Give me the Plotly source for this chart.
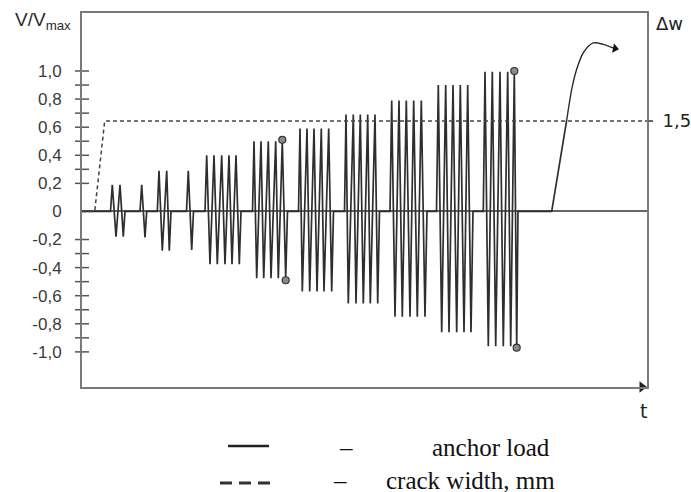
import plotly.graph_objects as go

# ---------------- data ----------------
# time axis t is in arbitrary units (0 .. 565)
group_start = [28.5, 58.0, 75.3, 104.5, 123.0, 170.5, 216.5, 262.5, 308.0, 354.5, 401.3]
group_end   = [43.0, 64.7, 89.0, 111.5, 159.0, 205.5, 251.5, 297.5, 345.0, 391.0, 436.0]
peak_t = [
    [30.3, 38.0],
    [59.7],
    [77.0, 84.7],
    [106.3],
    [124.7, 132.0, 139.7, 147.0, 154.0],
    [172.0, 179.0, 186.3, 193.7, 200.3],
    [218.0, 225.0, 232.0, 239.3, 246.7],
    [264.0, 271.3, 278.3, 285.7, 293.0],
    [309.7, 317.0, 324.3, 331.7, 339.3],
    [356.3, 363.7, 371.0, 378.3, 385.7],
    [403.0, 410.3, 418.0, 425.7, 432.3],
]
trough_t = [
    [34.0, 41.3],
    [63.0],
    [80.3, 87.3],
    [109.7],
    [128.0, 135.3, 143.0, 150.0, 157.3],
    [174.7, 181.7, 189.0, 196.3, 203.7],
    [220.3, 227.7, 235.0, 242.0, 249.7],
    [266.3, 274.0, 281.3, 288.3, 295.7],
    [313.0, 320.3, 328.0, 335.3, 343.0],
    [359.7, 367.0, 374.7, 382.0, 389.0],
    [406.3, 413.7, 421.3, 428.7, 434.7],
]
peak_v   = [0.19, 0.19, 0.29, 0.29, 0.40, 0.50, 0.59, 0.69, 0.79, 0.90, 0.995]
trough_v = [-0.18, -0.185, -0.28, -0.275, -0.375, -0.475, -0.57, -0.655, -0.75, -0.86, -0.96]

# final loading to failure: straight rise, then rounded top
rise_t = [436.0, 469.7, 484.7]
rise_v = [0.0, 0.0, 0.65]
top_t = [484.7, 490.0, 495.0, 501.3, 511.3, 521.3, 533.0]
top_v = [0.65, 0.88, 1.02, 1.13, 1.20, 1.19, 1.16]

# marked points (circles)
mark_t = [200.3, 203.7, 432.3, 434.7]
mark_v = [0.51, -0.49, 1.0, -0.97]

# crack width (right axis, mm)
crack_t = [0.0, 12.7, 22.7, 565.0]
crack_w = [0.0, 0.0, 1.5, 1.5]

# axis ticks
y_label_vals = [1.0, 0.8, 0.6, 0.4, 0.2, 0.0, -0.2, -0.4, -0.6, -0.8, -1.0]
y_label_text = ["1,0", "0,8", "0,6", "0,4", "0,2", "0", "-0,2", "-0,4", "-0,6", "-0,8", "-1,0"]
y_tick_vals = [1.0, 0.9, 0.8, 0.7, 0.6, 0.5, 0.4, 0.3, 0.2,
               -0.2, -0.3, -0.4, -0.5, -0.6, -0.7, -0.8, -0.9, -1.0]
y2_tick_vals = [1.5]
y2_tick_text = ["1,5"]

# ---------------- build load series ----------------
load_t = [0.0]
load_v = [0.0]
for i in range(len(group_start)):
    load_t.append(group_start[i]); load_v.append(0.0)
    for pt, tt in zip(peak_t[i], trough_t[i]):
        load_t += [pt, tt]
        load_v += [peak_v[i], trough_v[i]]
    load_t.append(group_end[i]); load_v.append(0.0)
load_t += rise_t
load_v += rise_v

# ---------------- geometry ----------------
W, H = 691, 492
ML, MR, MT, MB = 82, 44, 13, 105
PW, PH = W - ML - MR, H - MT - MB
x_range = [0, 565]
y_range = [-1.25, 1.413]
k = 1.5 / 0.644
y2_range = [y_range[0] * k, y_range[1] * k]

def px(xp):
    return (xp - ML) / PW

def py(yp):
    return (H - MB - yp) / PH

AX = "#7a7a7a"
LINE = "#2e2e2e"

fig = go.Figure()
fig.add_trace(go.Scatter(x=load_t, y=load_v, mode="lines",
                         line=dict(color=LINE, width=1.7), hoverinfo="skip", showlegend=False))
fig.add_trace(go.Scatter(x=top_t, y=top_v, mode="lines", line_shape="spline",
                         line=dict(color=LINE, width=1.4, smoothing=0.8),
                         hoverinfo="skip", showlegend=False))
# arrowhead at the end of the final curve
fig.add_trace(go.Scatter(x=[top_t[-1]], y=[top_v[-1]], mode="markers",
                         marker=dict(symbol="triangle-right", size=8, angle=12, color="#111"),
                         hoverinfo="skip", showlegend=False))
fig.add_trace(go.Scatter(x=crack_t, y=crack_w, yaxis="y2", mode="lines",
                         line=dict(color="#444", width=1.5, dash="4px,3px"),
                         hoverinfo="skip", showlegend=False))
fig.add_trace(go.Scatter(x=mark_t, y=mark_v, mode="markers",
                         marker=dict(size=7, color="#8a8a8a", line=dict(color="#333", width=1.2)),
                         hoverinfo="skip", showlegend=False))
# crossing tick marks on the left axis
fig.add_trace(go.Scatter(x=[x_range[0]] * len(y_tick_vals), y=y_tick_vals, mode="markers",
                         marker=dict(symbol="line-ew", size=10, line=dict(color="#555", width=1.5)),
                         cliponaxis=False, hoverinfo="skip", showlegend=False))
# arrowhead at the end of the time axis
fig.add_trace(go.Scatter(x=[x_range[1] - 5], y=[y_range[0]], mode="markers",
                         marker=dict(symbol="triangle-right", size=10, color="#222"),
                         cliponaxis=False, hoverinfo="skip", showlegend=False))

fig.update_layout(
    width=W, height=H,
    margin=dict(l=ML, r=MR, t=MT, b=MB, autoexpand=False),
    paper_bgcolor="white", plot_bgcolor="white",
    font=dict(family="Liberation Sans, Arial, sans-serif", color="#333"),
    xaxis=dict(range=x_range, showgrid=False, zeroline=False, showticklabels=False,
               ticks="", showline=True, linecolor=AX, linewidth=2, mirror=True, automargin=False),
    yaxis=dict(range=y_range, showgrid=False, zeroline=True, zerolinecolor="#666",
               zerolinewidth=1.5, tickvals=y_label_vals, ticktext=y_label_text,
               ticks="", ticklabelstandoff=15, tickfont=dict(size=17, color="#3a3a3a"),
               showline=True, linecolor=AX, linewidth=2, mirror=True, automargin=False),
    yaxis2=dict(range=y2_range, overlaying="y", side="right", showgrid=False, zeroline=False,
                tickvals=y2_tick_vals, ticktext=y2_tick_text, ticks="outside", ticklen=5,
                tickcolor="#666", tickwidth=1.5, ticklabelstandoff=6,
                tickfont=dict(size=18, color="#222", family="DejaVu Sans, sans-serif"),
                showline=False, automargin=False),
)

ann = []
ann.append(dict(xref="paper", yref="paper", x=px(73), y=py(21), xanchor="right", yanchor="middle",
                text="V/V<sub>max</sub>", showarrow=False,
                font=dict(size=19, color="#2a2a2a", family="Liberation Sans, Arial, sans-serif")))
ann.append(dict(xref="paper", yref="paper", x=px(654), y=py(23), xanchor="left", yanchor="middle",
                text="Δw", showarrow=False,
                font=dict(size=18, color="#222", family="DejaVu Sans, sans-serif")))
ann.append(dict(xref="paper", yref="paper", x=px(643), y=py(411), xanchor="center", yanchor="middle",
                text="t", showarrow=False,
                font=dict(size=19, color="#222", family="DejaVu Sans, sans-serif")))
serif = dict(size=25, color="#111", family="Liberation Serif, Times New Roman, serif")
ann.append(dict(xref="paper", yref="paper", x=px(346), y=py(447), xanchor="center", yanchor="middle",
                text="–", showarrow=False, font=serif, height=24))
ann.append(dict(xref="paper", yref="paper", x=px(340), y=py(480), xanchor="center", yanchor="middle",
                text="–", showarrow=False, font=serif, height=24))
ann.append(dict(xref="paper", yref="paper", x=px(430), y=py(447), xanchor="left", yanchor="middle",
                text="anchor load", showarrow=False, font=serif, height=24))
ann.append(dict(xref="paper", yref="paper", x=px(384), y=py(480), xanchor="left", yanchor="middle",
                text="crack width, mm", showarrow=False, font=serif, height=24))
fig.update_layout(annotations=ann)

fig.update_layout(shapes=[
    dict(type="line", xref="paper", yref="paper", x0=px(228), x1=px(269), y0=py(446), y1=py(446),
         line=dict(color="#222", width=2.5)),
    dict(type="line", xref="paper", yref="paper", x0=px(220), x1=px(271), y0=py(483), y1=py(483),
         line=dict(color="#333", width=3, dash="12px,7px")),
])

fig.write_html("out.html", config={"displayModeBar": False},
               post_script="document.body.style.margin='0px';document.body.style.overflow='hidden';")
